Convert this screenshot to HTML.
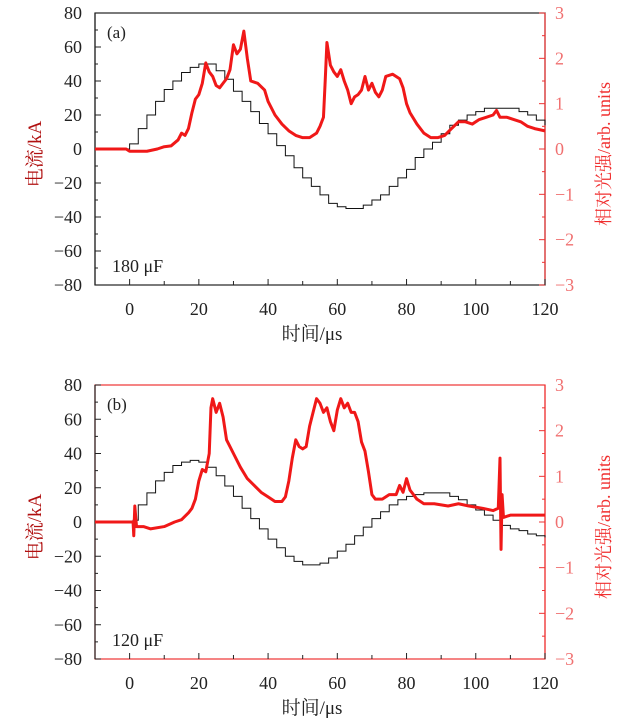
<!DOCTYPE html>
<html><head><meta charset="utf-8"><style>
html,body{margin:0;padding:0;background:#fff;}
svg{display:block;font-family:"Liberation Serif","Noto Serif CJK SC",serif;}
</style></head><body>
<svg id="chart" width="630" height="725" viewBox="0 0 630 725" xmlns="http://www.w3.org/2000/svg"></svg>
<script>
// ---- data ----
const tickXLabels = [0,20,40,60,80,100,120];
const tickLeftLabels = [80,60,40,20,0,-20,-40,-60,-80];
const tickRightLabels = [3,2,1,0,-1,-2,-3];

const curATime = [-10,-1,0,2.5,5,7.5,10,12.5,15,17.5,20,22.5,25,27.5,30,32.5,35,37.5,40,42.5,45,47.5,50,52.5,55,57.5,60,62.5,65,67.5,70,72.5,75,77.5,80,82.5,85,87.5,90,92.5,95,97.5,100,102.5,105,107.5,110,112.5,115,117.5,120];
const curAVal = [0,0,3,12,20,28,35,40,45,48,50,50,46,41,34,28,22,15,9,2,-4,-11,-17,-22,-27,-32,-34,-35,-35,-33,-30,-27,-22,-17,-12,-5,0,4,9,14,17,20,22,24,24,24,24,22,20,17,14];

const lightATime = [-10,-1,0,5,8,10,12,14,15,16,17,18,19,20,21,22,23,24,25,26,27,28,29,30,31,32,33,34,35,37,39,40,42,44,46,48,50,52,54,55,56,56.5,57,58,59,60,61,62,63,64,65,66,67,68,69,70,71,72,73,74,76,78,79,80,81,83,85,87,89,91,93,95,97,99,101,103,105,106,107,109,111,113,115,117,120];
const lightAVal = [0,0,-0.05,-0.05,0,0.05,0.07,0.2,0.35,0.3,0.45,0.8,1.1,1.2,1.45,1.9,1.7,1.6,1.4,1.35,1.45,1.55,1.75,2.3,2.1,2.2,2.6,2.0,1.5,1.45,1.3,1.05,0.75,0.55,0.4,0.3,0.25,0.25,0.35,0.5,0.7,1.5,2.35,1.85,1.7,1.6,1.75,1.5,1.3,1.0,1.15,1.2,1.3,1.6,1.3,1.45,1.25,1.15,1.3,1.6,1.65,1.55,1.35,1.0,0.8,0.55,0.35,0.25,0.25,0.3,0.45,0.6,0.6,0.55,0.65,0.7,0.75,0.85,0.7,0.7,0.65,0.6,0.5,0.45,0.4];

const curBTime = [-10,0,1,2.5,5,7.5,10,12.5,15,17.5,20,22.5,25,27.5,30,32.5,35,37.5,40,42.5,45,47.5,50,52.5,55,57.5,60,62.5,65,67.5,70,72.5,75,77.5,80,82.5,85,87.5,90,92.5,95,97.5,100,102.5,105,107.5,110,112.5,115,117.5,120];
const curBVal = [0,0,1,10,17,24,29,33,35,36,35,32,27,21,15,8,2,-4,-10,-15,-20,-23,-25,-25,-24,-21,-17,-13,-8,-3,2,6,10,13,15,16,17,17,17,15,13,10,7,4,1,-2,-4,-5,-7,-8,-9];

const lightBTime = [-10,1,1.2,1.5,2,4,6,10,13,15,17,18,19,20,21,22,23,23.5,24,25,26,27,28,30,32,34,36,38,40,42,44,45,46,47,48,49,50,51,52,53,54,55,56,57,58,59,60,61,62,63,64,65,66,67,68,69,70,71,73,75,77,78,79,80,81,82,83,85,88,92,95,98,102,105,106.5,107,107.3,107.6,108,110,115,120];
const lightBVal = [0,0,-0.3,0.35,-0.1,-0.1,-0.15,-0.1,0,0.05,0.2,0.3,0.5,0.9,1.15,1.1,1.5,2.5,2.7,2.4,2.6,2.3,1.8,1.5,1.2,0.95,0.8,0.65,0.55,0.45,0.45,0.55,0.9,1.4,1.8,1.65,1.6,1.65,2.1,2.4,2.7,2.6,2.4,2.5,2.2,2.0,2.45,2.7,2.5,2.6,2.4,2.4,2.2,1.75,1.55,1.1,0.6,0.5,0.5,0.6,0.6,0.8,0.65,0.95,0.7,0.6,0.5,0.4,0.4,0.35,0.4,0.35,0.3,0.25,0.3,1.4,-0.6,0.6,0.1,0.15,0.15,0.15];

const svg = document.getElementById('chart');
const NS = 'http://www.w3.org/2000/svg';
function mk(tag, attrs, parent){const e=document.createElementNS(NS,tag);for(const k in attrs)e.setAttribute(k,attrs[k]);(parent||svg).appendChild(e);return e;}

function panel(opt){
  const L=95,R=545,T=opt.top,B=opt.bottom;
  const xs=v=>L+(v+10)/130*(R-L);
  const yl=v=>T+(80-v)/160*(B-T);
  const yr=v=>T+(3-v)/6*(B-T);
  const g=mk('g',{});
  
  
  // frame
  const frame=mk('rect',{x:L,y:T,width:R-L,height:B-T,fill:'none',stroke:opt.frameColor,'stroke-width':1.2},g);
  
  
  const ls=mk('line',{x1:L,y1:T,x2:L,y2:B,stroke:'#222','stroke-width':1.2},g);
  
  
  const rs=mk('line',{x1:R,y1:T,x2:R,y2:B,stroke:'#e33','stroke-width':1.2},g);
  
  
  // left ticks
  for(let v=-80;v<=80;v+=10){const y=yl(v);const len=v%20===0?6:3;mk('line',{x1:L,y1:y,x2:L+len,y2:y,stroke:'#222'},g);}
  tickLeftLabels.forEach(v=>{const t=mk('text',{x:82,y:yl(v)+6,'text-anchor':'end','font-size':18,fill:'#222'},g);t.textContent=(v<0?'\u2212':'')+Math.abs(v);
    
    });
  // right ticks
  for(let v=-3;v<=3;v+=0.5){const y=yr(v);const len=Number.isInteger(v)?6:3;mk('line',{x1:R,y1:y,x2:R-len,y2:y,stroke:'#e33'},g);}
  tickRightLabels.forEach(v=>{const t=mk('text',{x:555,y:yr(v)+6,'text-anchor':'start','font-size':18,fill:'#f07070'},g);t.textContent=(v<0?'\u2212':'')+Math.abs(v);
    
    });
  // x ticks
  for(let v=-10;v<=120;v+=10){const x=xs(v);mk('line',{x1:x,y1:B,x2:x,y2:B-(v%20===0?6:4),stroke:'#222'},g);}
  tickXLabels.forEach(v=>{const t=mk('text',{x:xs(v),y:B+30,'text-anchor':'middle','font-size':18,fill:'#222'},g);t.textContent=v;
    
    });
  // current step line
  let d='';opt.ct.forEach((t,i)=>{const x=xs(t),y=yl(opt.cv[i]);if(i===0)d+='M'+x+','+y;else d+='H'+x+'V'+y;});
  const cp=mk('path',{d:d,fill:'none',stroke:'#111','stroke-width':1},g);
  
  
  // light line
  let d2='';opt.lt.forEach((t,i)=>{d2+=(i?'L':'M')+xs(t)+','+yr(opt.lv[i]);});
  const lp=mk('path',{d:d2,fill:'none',stroke:'#f01818','stroke-width':3,'stroke-linejoin':'round'},g);
  
  
  // labels
  const pl=mk('text',{x:107,y:T+25,'font-size':17,fill:'#222'},g);pl.textContent=opt.label;
  
  
  const cap=mk('text',{x:112,y:B-13,'font-size':18,fill:'#222'},g);cap.textContent=opt.cap;
  
  
  const xt=mk('text',{x:312,y:B+55,'text-anchor':'middle','font-size':19,fill:'#222'},g);xt.textContent='时间/μs';
  
  
  const cy=(T+B)/2;
  const lt=mk('text',{x:0,y:0,'text-anchor':'middle','font-size':19,fill:'#b01010',transform:'translate(41,'+(cy+5)+') rotate(-90)'},g);lt.textContent='电流/kA';
  
  
  const rt=mk('text',{x:0,y:0,'text-anchor':'middle','font-size':18,fill:'#f03030',transform:'translate(610,'+(cy+5)+') rotate(-90)'},g);rt.textContent='相对光强/arb. units';
  
  
}
panel({name:'panel-a',top:13,bottom:285,frameColor:'#222',ct:curATime,cv:curAVal,lt:lightATime,lv:lightAVal,label:'(a)',cap:'180 μF'});
panel({name:'panel-b',top:385,bottom:659,frameColor:'#e33',ct:curBTime,cv:curBVal,lt:lightBTime,lv:lightBVal,label:'(b)',cap:'120 μF'});
</script>
</body></html>
